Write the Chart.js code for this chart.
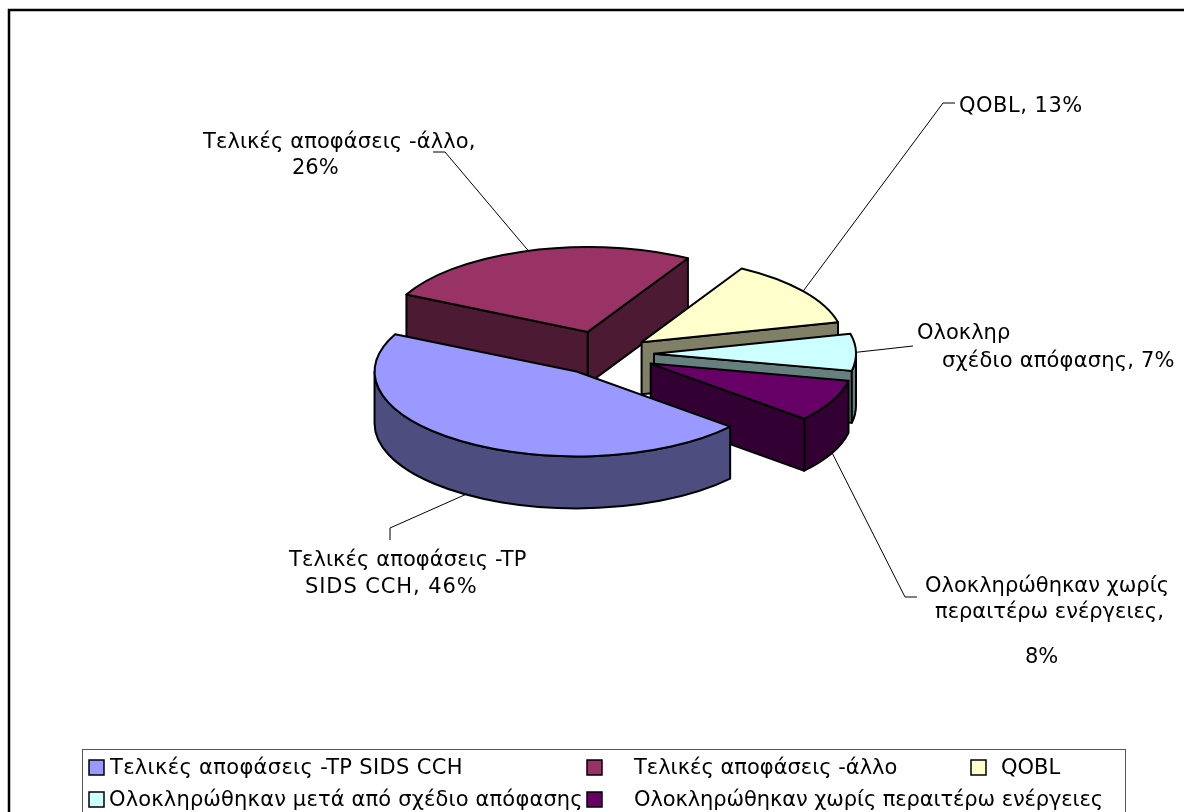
<!DOCTYPE html>
<html>
<head>
<meta charset="utf-8">
<script src="https://cdn.jsdelivr.net/npm/chart.js@4"></script>
<style>
  html, body { margin: 0; padding: 0; background: #fff; overflow: hidden; }
  #wrap { width: 1184px; height: 812px; }
</style>
</head>
<body>
<div id="wrap"><canvas id="myChart" width="1184" height="812"></canvas></div>
<script>
const categories = [
  'Τελικές αποφάσεις -TP SIDS CCH',
  'Τελικές αποφάσεις -άλλο',
  'QOBL',
  'Ολοκληρώθηκαν μετά από σχέδιο απόφασης',
  'Ολοκληρώθηκαν χωρίς περαιτέρω ενέργειες'
];
const shares = [46, 26, 13, 7, 8];
const topColors = ['#9999FF', '#993366', '#FFFFCC', '#CCFFFF', '#660066'];
const wallColors = ['#4D4D80', '#4D1A33', '#808066', '#668080', '#330033'];
const pieLabels = [
  ['Τελικές αποφάσεις -TP', 'SIDS CCH, 46%'],
  ['Τελικές αποφάσεις -άλλο,', '26%'],
  ['QOBL, 13%'],
  ['Ολοκληρ', 'σχέδιο απόφασης, 7%'],
  ['Ολοκληρώθηκαν χωρίς', 'περαιτέρω ενέργειες,', '8%']
];

// look of the 3d pie
const FONT = '21px "DejaVu Sans"';
const tilt = 0.42;
const depth = 52;
const explode = [50, 55, 47, 50, 52];
const paintOrder = [1, 2, 3, 4, 0];

// label placement: [x, baseline, letter spacing] per line, then the leader line's far points
const labelLayout = [
  { lines: [[289, 566, 0.1], [305, 593, 0.9]], leader: [[390, 528], [390, 540]] },
  { lines: [[203, 148, 0.1], [292, 174, 0]], leader: [[445, 152], [433, 152]] },
  { lines: [[959, 112, 0.5]], leader: [[943, 103], [955, 103]] },
  { lines: [[917, 339, 0], [942, 367, 0.2]], leader: [[913, 346]] },
  { lines: [[925, 592, 0], [935, 618, 0], [1025, 663, 0]], leader: [[905, 597], [917, 597]] }
];
const legendLayout = [
  { box: [89, 760], text: [110, 774, 0.33] },
  { box: [587, 760], text: [634, 774, 0] },
  { box: [971, 760], text: [1001, 774, 0] },
  { box: [89, 792], text: [109, 806, 0.16] },
  { box: [587, 792], text: [634, 806, -0.1] }
];

function sliceOrigin(arc, i) {
  const mid = (arc.startAngle + arc.endAngle) / 2;
  return {
    x: arc.x + Math.cos(mid) * explode[i],
    y: arc.y + Math.sin(mid) * explode[i] * tilt
  };
}

function rimPoint(arc, o, a) {
  return { x: o.x + Math.cos(a) * arc.outerRadius, y: o.y + Math.sin(a) * arc.outerRadius * tilt };
}

function paintPath(ctx, fill) {
  ctx.fillStyle = fill;
  ctx.fill();
  ctx.strokeStyle = '#000';
  ctx.lineWidth = 2;
  ctx.lineJoin = 'round';
  ctx.stroke();
}

function drawWalls(ctx, arc, i) {
  const o = sliceOrigin(arc, i);
  const s = arc.startAngle, e = arc.endAngle;
  const quad = (a) => {
    const p = rimPoint(arc, o, a);
    ctx.beginPath();
    ctx.moveTo(o.x, o.y);
    ctx.lineTo(p.x, p.y);
    ctx.lineTo(p.x, p.y + depth);
    ctx.lineTo(o.x, o.y + depth);
    ctx.closePath();
    paintPath(ctx, wallColors[i]);
  };
  // only walls turned towards the viewer
  if (-Math.cos(s) > 0) quad(s);
  if (Math.cos(e) > 0) quad(e);

  // rim strip: the parts of the slice in the lower half of the ellipse
  const TAU = Math.PI * 2;
  for (let k = -1; k <= 1; k++) {
    const from = Math.max(s, k * TAU);
    const to = Math.min(e, k * TAU + Math.PI);
    if (to <= from) continue;
    ctx.beginPath();
    ctx.ellipse(o.x, o.y, arc.outerRadius, arc.outerRadius * tilt, 0, from, to);
    ctx.ellipse(o.x, o.y + depth, arc.outerRadius, arc.outerRadius * tilt, 0, to, from, true);
    ctx.closePath();
    paintPath(ctx, wallColors[i]);
  }
}

function drawTop(ctx, arc, i) {
  const o = sliceOrigin(arc, i);
  ctx.save();
  ctx.translate(o.x, o.y);
  ctx.scale(1, tilt);
  ctx.translate(-arc.x, -arc.y);
  arc.draw(ctx);
  ctx.restore();

  ctx.beginPath();
  ctx.moveTo(o.x, o.y);
  ctx.ellipse(o.x, o.y, arc.outerRadius, arc.outerRadius * tilt, 0, arc.startAngle, arc.endAngle);
  ctx.closePath();
  ctx.strokeStyle = '#000';
  ctx.lineWidth = 2;
  ctx.lineJoin = 'round';
  ctx.stroke();
}

const pie3d = {
  id: 'pie3d',
  beforeDatasetDraw(chart, args) {
    const ctx = chart.ctx;
    const arcs = chart.getDatasetMeta(args.index).data;
    ctx.save();
    paintOrder.forEach(i => {
      drawWalls(ctx, arcs[i], i);
      drawTop(ctx, arcs[i], i);
    });
    ctx.restore();
    return false;
  },
  afterDatasetsDraw(chart) {
    const ctx = chart.ctx;
    const arcs = chart.getDatasetMeta(0).data;
    ctx.save();

    // outer frame, the right and bottom sides are cut off in the picture
    ctx.strokeStyle = '#000';
    ctx.lineWidth = 2.5;
    ctx.beginPath();
    ctx.moveTo(9, 812);
    ctx.lineTo(9, 10);
    ctx.lineTo(1184, 10);
    ctx.stroke();

    // leader lines, from the rim of each slice
    ctx.lineWidth = 1;
    arcs.forEach((arc, i) => {
      const mid = (arc.startAngle + arc.endAngle) / 2;
      const p = rimPoint(arc, sliceOrigin(arc, i), mid);
      if (Math.sin(mid) > 0) p.y += depth;
      ctx.beginPath();
      ctx.moveTo(p.x, p.y);
      labelLayout[i].leader.forEach(q => ctx.lineTo(q[0], q[1]));
      ctx.stroke();
    });

    // labels
    ctx.font = FONT;
    ctx.fillStyle = '#000';
    ctx.textAlign = 'left';
    ctx.textBaseline = 'alphabetic';
    pieLabels.forEach((lines, i) => {
      lines.forEach((line, j) => {
        const pos = labelLayout[i].lines[j];
        ctx.letterSpacing = pos[2] + 'px';
        ctx.fillText(line, pos[0], pos[1]);
      });
    });

    // legend
    ctx.strokeStyle = '#555';
    ctx.lineWidth = 1;
    ctx.strokeRect(82.5, 749.5, 1043, 70);
    categories.forEach((name, i) => {
      const l = legendLayout[i];
      ctx.fillStyle = topColors[i];
      ctx.fillRect(l.box[0], l.box[1], 15, 15);
      ctx.strokeStyle = '#000';
      ctx.lineWidth = 1.5;
      ctx.strokeRect(l.box[0], l.box[1], 15, 15);
      ctx.fillStyle = '#000';
      ctx.letterSpacing = l.text[2] + 'px';
      ctx.fillText(name, l.text[0], l.text[1]);
    });
    ctx.restore();
  }
};

var ctx = document.getElementById('myChart').getContext('2d');
var myChart = new Chart(ctx, {
  type: 'pie',
  data: {
    labels: categories,
    datasets: [{
      data: shares,
      backgroundColor: topColors,
      borderWidth: 0,
      radius: 202
    }]
  },
  options: {
    responsive: false,
    animation: false,
    rotation: 130.5,
    layout: { padding: { left: 24, bottom: 104 } },
    plugins: {
      legend: { display: false },
      tooltip: { enabled: false }
    }
  },
  plugins: [pie3d]
});
</script>
</body>
</html>
